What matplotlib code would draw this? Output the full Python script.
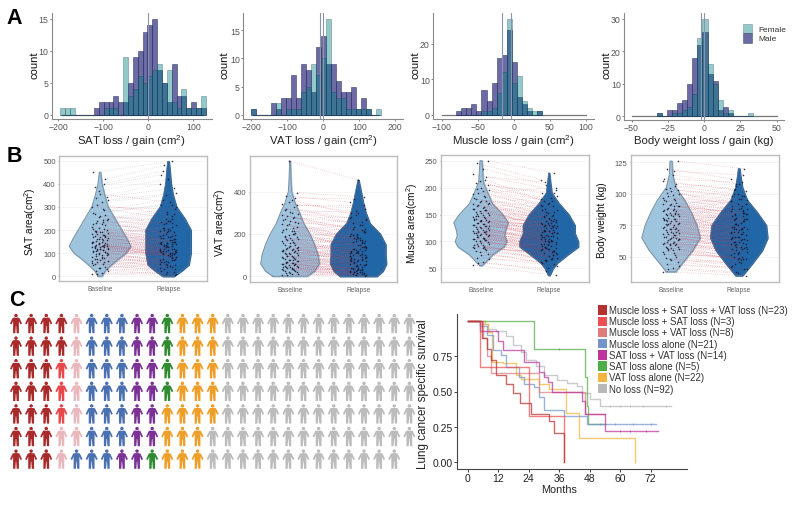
import numpy as np
import matplotlib
matplotlib.use("Agg")
from matplotlib import pyplot as plt
from matplotlib.patches import Rectangle
from matplotlib.path import Path

plt.rcParams["font.family"] = ["Liberation Sans", "DejaVu Sans"]
plt.rcParams["mathtext.default"] = "regular"

W, H = 800, 506

FEMALE = "#008080"
MALE = "#28257c"
GREY_TXT = "#555555"

# panel A: counts per bin
sat_female = [1,1,1,0,0,0,0,0,0,1,1,1,0,9,3,4,6,5,6,7,8,5,7,2,1,4,1,1,1,3]
sat_male = [0,0,0,0,0,0,0,1,2,2,2,3,2,2,5,9,10,13,14,15,7,5,2,8,3,3,1,2,1,1]
vat_female = [1,0,0,0,0,2,0,1,1,1,4,5,9,7,10,17,4,3,3,1,1,1,1,1,0,1]
vat_male = [1,0,0,0,2,1,3,3,7,3,9,8,4,12,14,9,9,6,4,4,5,1,3,1,0,0]
muscle_female = [0,0,0,0,0,1,1,2,6,12,27,9,11,4,2,1,1]
muscle_male = [1,2,2,3,1,7,4,9,16,17,24,15,5,3,1,0,1]
weight_female = [1,0,0,1,1,2,3,7,24,30,16,10,5,1,2,0,0,0,1]
weight_male = [1,0,2,2,4,5,10,18,22,26,13,11,2,3,1,0,0,0,0]

# panel B: violin outlines, (value, half width)
sat_base_y = [0,25,50,75,100,130,160,200,250,300,350,400,450]
sat_base_w = [.03,.08,.17,.27,.38,.45,.40,.32,.22,.12,.07,.03,.01]
sat_rel_y = [0,25,50,100,150,200,250,300,350,400,450,497]
sat_rel_w = [.08,.2,.3,.33,.33,.33,.24,.12,.07,.04,.025,.01]
vat_base_y = [0,25,60,100,150,200,250,300,350,400,450,500,545]
vat_base_w = [.25,.36,.43,.41,.36,.29,.2,.14,.07,.025,.015,.01,.005]
vat_rel_y = [0,25,60,100,150,200,250,300,350,400,455]
vat_rel_w = [.27,.36,.41,.4,.4,.32,.17,.11,.07,.04,.005]
muscle_base_y = [55,60,75,90,100,110,120,135,150,170,190,210,230,250]
muscle_base_w = [.015,.06,.17,.34,.38,.35,.36,.4,.32,.17,.1,.035,.025,.015]
muscle_rel_y = [37,50,60,75,90,100,115,130,150,170,190,210,227]
muscle_rel_w = [.01,.06,.12,.27,.43,.43,.38,.38,.29,.15,.04,.02,.005]
weight_base_y = [38,45,55,65,75,85,95,105,115,126]
weight_base_w = [.07,.17,.32,.43,.38,.3,.2,.07,.025,.015]
weight_rel_y = [35,45,55,65,75,85,95,105,115,120]
weight_rel_w = [.05,.2,.34,.42,.4,.27,.12,.05,.02,.01]

# panel B: patients at baseline and relapse
sat_base = [8,15,22,30,35,42,48,55,60,65,70,75,80,85,90,95,100,102,105,110,112,115,118,120,122,125,128,130,135,138,140,145,150,155,160,165,170,175,180,185,190,195,200,210,220,225,235,240,250,260,270,285,300,320,340,345,370,420,450,130,
            12,25,38,52,62,68,78,88,92,98,103,107,113,117,124,127,132,136,142,148,152,158,162,168,172,178,182,188,192,198,205,215,228,232,245,255,265,275,290,310,330,355,385,400,58,83,108,133,143,173,203,243,73,97,119,126,137,147,163,193]
sat_rel = [5,12,35,20,60,30,70,40,50,85,100,60,95,75,110,55,120,90,130,100,80,145,105,95,150,110,160,125,115,150,170,135,155,120,190,140,200,165,210,150,230,175,190,240,210,260,230,280,300,240,310,330,290,350,400,380,420,480,497,85,
           18,8,45,25,75,50,65,110,70,125,60,140,90,130,85,170,105,180,100,185,120,160,115,200,130,215,145,220,155,235,165,180,250,195,270,205,225,310,250,270,360,320,440,455,30,55,70,95,195,120,150,175,40,115,88,140,100,110,135,145]
vat_base = [5,10,14,18,22,26,30,35,38,42,46,50,55,58,62,66,70,75,80,85,90,95,100,105,110,115,120,125,130,135,140,150,155,160,170,175,180,190,200,210,215,225,235,245,255,265,275,285,295,305,315,325,340,360,380,395,545,60,120,200,
            8,12,16,24,28,33,40,44,48,52,57,60,64,68,72,78,83,88,92,98,103,108,112,118,122,128,133,138,145,148,158,165,172,178,185,195,205,220,230,240,250,260,270,280,290,300,320,335,350,370,45,75,95,125,155,185,215,245,35,65]
vat_rel = [3,8,25,12,35,18,45,22,30,60,28,70,40,85,50,95,55,110,65,75,120,70,90,130,85,100,145,110,95,155,120,130,170,105,185,140,150,200,160,225,175,190,210,180,235,220,255,200,270,240,300,250,320,290,350,375,455,20,80,140,
           15,5,20,40,10,55,25,75,15,38,80,33,105,48,90,60,115,35,100,125,58,140,78,68,160,92,115,135,180,82,195,125,165,110,215,148,180,240,155,195,265,170,280,225,210,310,275,335,300,365,10,30,55,70,100,118,130,165,5,22]
muscle_base = [56,62,70,76,80,84,87,90,92,95,97,100,102,104,106,108,110,112,114,116,118,120,122,124,126,128,130,132,134,136,138,140,142,145,148,150,152,155,158,160,163,166,170,173,176,180,185,190,195,200,208,215,225,235,245,250,100,120,140,90,
               60,68,74,82,86,89,93,96,99,101,103,105,107,109,111,113,115,117,119,121,123,125,127,129,131,133,135,137,139,141,143,146,149,151,153,156,159,161,164,167,171,175,178,183,188,193,198,205,212,220,94,105,118,128,138,147,158,170,88,112]
muscle_rel = [37,45,62,58,72,66,80,74,85,70,92,86,78,98,88,95,82,105,90,100,110,94,115,102,108,120,96,125,112,118,130,105,128,122,135,115,140,132,145,125,150,135,155,142,160,148,165,170,158,180,190,175,195,205,215,227,85,100,115,75,
              50,55,68,60,96,78,64,112,82,120,90,68,126,100,76,134,92,108,88,138,104,142,98,130,116,150,110,128,100,158,122,136,112,168,130,144,120,175,138,152,185,125,165,148,200,155,178,190,172,210,70,82,96,106,110,118,128,140,66,84]
weight_base = [38,41,44,46,48,50,52,53,55,56,57,58,59,60,61,62,63,64,65,66,67,68,69,70,71,72,73,74,75,76,77,78,79,80,81,82,83,84,85,86,87,88,90,91,93,95,96,98,100,102,104,106,110,115,120,126,60,70,80,90,
               40,43,47,49,51,54,55,57,58,59,60,61,62,63,64,65,66,67,68,69,70,71,72,73,74,75,76,77,78,79,80,81,82,83,84,85,86,87,88,89,90,92,94,95,97,99,101,103,105,108,112,118,56,64,72,76,84,92,66,78]
weight_rel = [35,38,42,40,46,44,50,48,52,54,47,56,53,58,55,60,57,62,59,64,61,66,63,68,65,70,67,72,69,74,71,76,73,78,75,80,77,82,79,84,81,86,85,88,83,90,87,92,95,89,98,100,102,108,112,120,54,62,72,85,
              37,40,45,43,50,48,60,51,64,49,66,56,70,53,72,58,74,62,60,76,64,80,66,84,68,86,70,88,72,90,74,92,76,94,78,96,80,98,82,100,84,96,88,103,92,106,94,98,108,104,109,115,48,56,63,66,72,80,58,70]

# panel C: groups
group_names = ["Muscle loss + SAT loss + VAT loss (N=23)", "Muscle loss + SAT loss (N=3)",
               "Muscle loss + VAT loss (N=8)", "Muscle loss alone (N=21)",
               "SAT loss + VAT loss (N=14)", "SAT loss alone (N=5)",
               "VAT loss alone (N=22)", "No loss (N=92)"]
group_counts = [23, 3, 8, 21, 14, 5, 22, 92]
legend_colors = ["#b5312e", "#eb4f52", "#e07a7d", "#7393c9", "#bb359a", "#4fae4a", "#f5b33f", "#b8b8b8"]
people_colors = ["#a82a2a", "#e8474c", "#e9b8bc", "#4a70b0", "#7b3294", "#2f8a30", "#ee9f2a", "#bcbcbc"]

# survival curves, (months, survival)
km_all_t = [0,5.5,7.5,9,11,15,18,20.5,25,32,34,38,38.01]
km_all_s = [1,.88,.8,.72,.62,.55,.49,.42,.34,.29,.21,.21,0]
km_ms_t = [0,5,24,38,38.01]
km_ms_s = [1,.67,.33,.33,0]
km_mv_t = [0,6,7.5,9,28,46,54]
km_mv_s = [1,.875,.75,.63,.5,.34,.34]
km_m_t = [0,5,7.5,10,13,15,20,22,26,28,30,38,47,74]
km_m_s = [1,.96,.9,.79,.76,.67,.6,.55,.53,.46,.37,.33,.267,.267]
km_sv_t = [0,5,12,14,22,28,30,31.5,33,45,46,54,54.01,75]
km_sv_s = [1,.93,.86,.79,.71,.64,.6,.57,.5,.43,.34,.34,.22,.22]
km_s_t = [0,26,46,47,47.5,54]
km_s_s = [1,.8,.6,.4,.267,.267]
km_v_t = [0,7,8,9.5,14,19,21,28,32,38.7,44,66,66.01]
km_v_s = [1,.98,.92,.71,.7,.62,.59,.55,.52,.35,.175,.175,0]
km_n_t = [0,5,8,11,15,18,21,23,27,30,35,39,43,45,48,52,80]
km_n_s = [1,.98,.94,.93,.89,.83,.78,.72,.68,.62,.58,.56,.54,.49,.45,.4,.4]
km_curves = [(km_n_t, km_n_s), (km_v_t, km_v_s), (km_s_t, km_s_s), (km_m_t, km_m_s),
             (km_mv_t, km_mv_s), (km_sv_t, km_sv_s), (km_ms_t, km_ms_s), (km_all_t, km_all_s)]
km_order = [7, 6, 5, 3, 2, 4, 1, 0]
# censoring ticks
censor_n_t = [56,60,64,69,78]
censor_n_s = [.4,.4,.4,.4,.4]
censor_s_t = [36]
censor_s_s = [.8]
censor_m_t = [52,58,65,72]
censor_m_s = [.267,.267,.267,.267]
censor_sv_t = [60,64,70]
censor_sv_s = [.22,.22,.22]

fig = plt.figure(figsize=(W / 100, H / 100), dpi=100)


def px_axes(left, top, right, bottom):
    return fig.add_axes([left / W, 1 - bottom / H, (right - left) / W, (bottom - top) / H])


def px_text(x, y, s, **kw):
    kw.setdefault("ha", "center")
    kw.setdefault("va", "center")
    fig.text(x / W, 1 - y / H, s, **kw)


def draw_hist(box, x0_px, x_scale, y0_px, y_scale, start, width, female, male, medians, xticks, yticks, span):
    ax = px_axes(*box)
    ax.set_xlim((box[0] - x0_px) / x_scale, (box[2] - x0_px) / x_scale)
    ax.set_ylim((y0_px - box[3]) / y_scale, (y0_px - box[1]) / y_scale)
    centers = start + width * np.arange(len(female))
    ax.plot(span, [0, 0], color="#777777", lw=0.9, zorder=1)
    ax.bar(centers, male, width, color=MALE, alpha=0.68, edgecolor="#1d2a55", linewidth=0.5, zorder=2)
    ax.bar(centers, female, width, color=FEMALE, alpha=0.42, edgecolor="#143a55", linewidth=0.5, zorder=3)
    for m in medians:
        ax.axvline(m, color="#8d93a8", lw=0.8, zorder=4)
    for side in ["top", "right"]:
        ax.spines[side].set_visible(False)
    for side in ["left", "bottom"]:
        ax.spines[side].set_color("#8a8a8a")
        ax.spines[side].set_linewidth(0.8)
    ax.set_xticks(xticks)
    ax.set_yticks(yticks)
    ax.tick_params(labelsize=6.3, colors=GREY_TXT, length=1.5, width=0.5, pad=1)
    return ax


draw_hist((52, 14, 212, 120), 148.3, 0.45, 115.7, 6.38, -191, 10.8, sat_female, sat_male, [0],
          [-200, -100, 0, 100], [0, 5, 10, 15], [-191, 122])
draw_hist((243.3, 14, 403, 120), 323.3, 0.36, 115.7, 5.64, -194, 13.9, vat_female, vat_male, [-10, 0],
          [-200, -100, 0, 100, 200], [0, 5, 10, 15], [-194, 153])
draw_hist((433.3, 14, 594, 120), 513.7, 0.72, 115.7, 3.54, -76.6, 7.06, muscle_female, muscle_male, [-16, -4],
          [-100, -50, 0, 50, 100], [0, 10, 20], [-100, 100])
draw_hist((624.3, 14, 784, 121), 704, 1.45, 117.3, 3.25, -30.8, 3.5, weight_female, weight_male, [-2, 0],
          [-50, -25, 0, 25, 50], [0, 10, 20, 30], [-50, 50])

for x, label in [(131.7, r"SAT loss / gain (cm$^2$)"), (323, r"VAT loss / gain (cm$^2$)"),
                 (513, r"Muscle loss / gain (cm$^2$)"), (704, "Body weight loss / gain (kg)")]:
    px_text(x, 141.5, label, fontsize=8.2, color="#222222")
for x, y in [(34, 65), (225, 65), (415, 65), (606, 65)]:
    px_text(x, y, "count", fontsize=8, rotation=90, color="#111111")

jitter = [-.12, .03, -.06, .1, -.02, .08, -.1, .05, -.04, .12, 0, -.08, .06]


def draw_violin(box, x_base_px, x_rel_px, y_cal, yticks, base_y, base_w, rel_y, rel_w, base, rel):
    ax = px_axes(*box)
    unit = x_rel_px - x_base_px
    ax.set_xlim((box[0] - x_base_px) / unit, (box[2] - x_base_px) / unit)
    y_px, y_val, y_scale = y_cal
    ax.set_ylim(y_val + (y_px - box[3]) / y_scale, y_val + (y_px - box[1]) / y_scale)
    ax.fill_betweenx(base_y, -np.array(base_w), base_w, color="#9ec4de", zorder=2)
    ax.fill_betweenx(rel_y, 1 - np.array(rel_w), 1 + np.array(rel_w), color="#2166a6", zorder=2)
    for xs, ys, ws, c in [(0, base_y, base_w, "#7f93a3"), (1, rel_y, rel_w, "#4f6f8f")]:
        ys = np.array(ys)
        ws = np.array(ws)
        ax.plot(np.r_[xs - ws, (xs + ws)[::-1], xs - ws[0]], np.r_[ys, ys[::-1], ys[0]], color=c, lw=0.7, zorder=3)
    for i, (b, r) in enumerate(zip(base, rel)):
        x0 = jitter[i % len(jitter)]
        x1 = 1 + jitter[(i * 5 + 3) % len(jitter)]
        color = "#d8323f" if r <= b else "#8a7f9f"
        ax.plot([x0, x1], [b, r], color=color, lw=0.45, ls=(0, (1, 2.5)), alpha=0.5, zorder=4)
        ax.scatter([x0, x1], [b, r], s=1.3, color="#10152e", alpha=0.85, linewidths=0, zorder=5)
    ax.grid(axis="y", color="#f1f1f1", lw=0.5)
    ax.set_axisbelow(True)
    for s in ax.spines.values():
        s.set_color("#bdbdbd")
        s.set_linewidth(1.0)
    ax.set_xticks([0, 1], ["Baseline", "Relapse"])
    ax.set_yticks(yticks)
    ax.tick_params(axis="x", labelsize=4.8, colors="#666666", length=1, width=0.4, pad=2)
    ax.tick_params(axis="y", labelsize=5.5, colors=GREY_TXT, length=1, width=0.4, pad=1.5)


draw_violin((59.3, 156.7, 207.3, 282.3), 100, 168.3, (277.3, 0, 0.2312), [0, 100, 200, 300, 400, 500],
            sat_base_y, sat_base_w, sat_rel_y, sat_rel_w, sat_base, sat_rel)
draw_violin((250, 156.7, 396.7, 282.7), 290, 358.3, (277.3, 0, 0.2117), [0, 200, 400],
            vat_base_y, vat_base_w, vat_rel_y, vat_rel_w, vat_base, vat_rel)
draw_violin((440.7, 156, 588.7, 282.7), 481, 549, (269.3, 50, 0.538), [50, 100, 150, 200, 250],
            muscle_base_y, muscle_base_w, muscle_rel_y, muscle_rel_w, muscle_base, muscle_rel)
draw_violin((630.7, 156, 779.3, 282.7), 671, 739, (257.7, 50, 1.258), [50, 75, 100, 125],
            weight_base_y, weight_base_w, weight_rel_y, weight_rel_w, weight_base, weight_rel)

for x, y, label in [(30, 222, r"SAT area(cm$^2$)"), (220, 223, r"VAT area(cm$^2$)"),
                    (411.7, 223, r"Muscle area(cm$^2$)"), (601.7, 220, "Body weight (kg)")]:
    px_text(x, y, label, fontsize=7.3, rotation=90, color="#111111")

# survival plot
ax_km = px_axes(457.3, 315, 686.7, 470)
ax_km.set_xlim((457.3 - 467.7) / 2.54, (686.7 - 467.7) / 2.54)
ax_km.set_ylim((463.3 - 470) / 141.6, (463.3 - 315) / 141.6)
for (t, s), i in zip(km_curves, km_order):
    ax_km.step(t, s, where="post", color=legend_colors[i], lw=1.0, alpha=0.72)
for t, s, i in [(censor_n_t, censor_n_s, 7), (censor_s_t, censor_s_s, 5),
                (censor_m_t, censor_m_s, 3), (censor_sv_t, censor_sv_s, 4)]:
    ax_km.plot(t, s, ls="none", marker="|", ms=2, mew=0.5, color=legend_colors[i])
for side in ["top", "right"]:
    ax_km.spines[side].set_visible(False)
for side in ["left", "bottom"]:
    ax_km.spines[side].set_color("#444444")
    ax_km.spines[side].set_linewidth(0.8)
ax_km.set_xticks([0, 12, 24, 36, 48, 60, 72])
ax_km.set_yticks([0, .25, .5, .75], ["0.00", "0.25", "0.50", "0.75"])
ax_km.tick_params(labelsize=7.5, colors="#222222", length=2, width=0.6, pad=1)
px_text(559, 490.5, "Months", fontsize=7.8, color="#222222")
px_text(423, 394, "Lung cancer specific survival", fontsize=8.4, rotation=90, color="#222222")

# overlay in pixel coordinates: letters, legends, people
ov = fig.add_axes([0, 0, 1, 1])
ov.set_xlim(0, W)
ov.set_ylim(H, 0)
ov.axis("off")
ov.patch.set_alpha(0)

for x, y, letter in [(14.5, 18.5, "A"), (14.5, 156.5, "B"), (17, 300, "C")]:
    px_text(x, y, letter, fontsize=15.5, fontweight="bold", color="black")

ov.add_patch(Rectangle((742.7, 25), 9.3, 9.3, facecolor=FEMALE, alpha=0.42, edgecolor="#31505a", lw=0.5))
ov.add_patch(Rectangle((742.7, 34.3), 9.3, 9.3, facecolor=MALE, alpha=0.68, edgecolor="#31505a", lw=0.5))
px_text(758, 30, "Female", fontsize=6, ha="left", color="#333333")
px_text(758, 39.5, "Male", fontsize=6, ha="left", color="#333333")

for i, name in enumerate(group_names):
    y = 311 + 11.23 * i
    ov.add_patch(Rectangle((597.7, y - 4.7), 9, 9.4, facecolor=legend_colors[i], edgecolor="none"))
    px_text(608.7, y, name, fontsize=6.9, ha="left", color="#333333")

# person marker, built once and stamped for every patient
half = [(.12, .62), (.34, .58), (.62, .0), (.46, -.1), (.3, .25), (.3, -.1), (.3, -1), (.07, -1), (.02, -.25)]
outline = half + [(-x, y) for x, y in half[::-1]]
body = Path(outline + [outline[0]], closed=True)
head = Path.circle((0, .82), .18)
person = Path.make_compound_path(head, body)

people_x, people_y, people_c = [], [], []
labels = np.repeat(np.arange(len(group_counts)), group_counts)
for k, g in enumerate(labels):
    col, row = divmod(k, 7)
    people_x.append(16 + 15.13 * col)
    people_y.append(324.5 + 22.6 * row)
    people_c.append(people_colors[g])
ov.scatter(people_x, people_y, s=195, marker=person, c=people_c, linewidths=0)

fig.savefig("out.png", dpi=100)
